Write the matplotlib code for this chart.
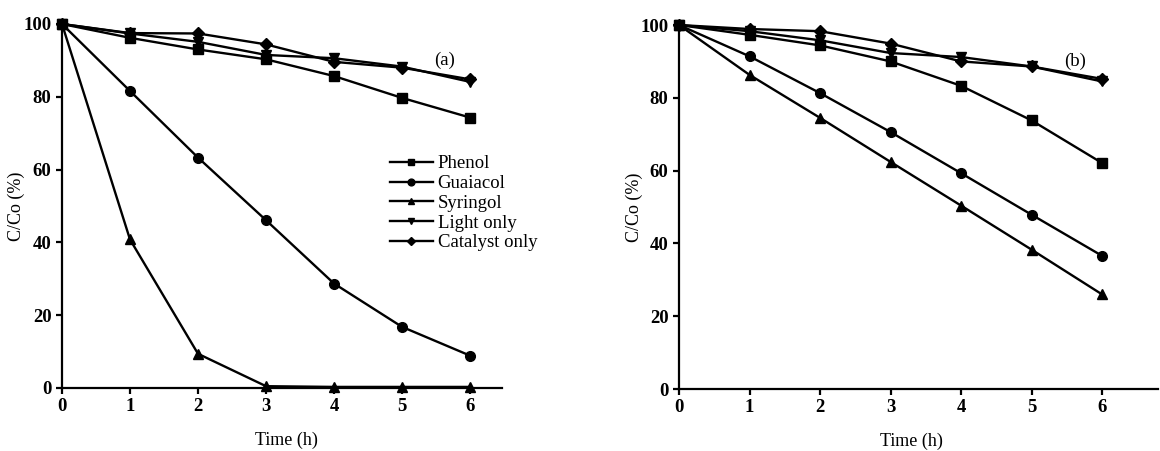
import matplotlib
matplotlib.use("Agg")
from matplotlib import pyplot as plt

plt.rcParams['font.family'] = ['Liberation Serif', 'DejaVu Serif']
plt.rcParams['font.weight'] = 'bold'

time_h = [0, 1, 2, 3, 4, 5, 6]
series_names = ["Phenol", "Guaiacol", "Syringol", "Light only", "Catalyst only"]
markers = ["s", "o", "^", "v", "D"]

# panel (a)
a_phenol = [100, 96.2, 93.0, 90.3, 85.7, 79.7, 74.3]
a_guaiacol = [100, 81.6, 63.3, 46.1, 28.7, 16.8, 8.9]
a_syringol = [100, 40.8, 9.4, 0.5, 0.3, 0.3, 0.3]
a_light = [100, 97.4, 95.1, 91.5, 90.6, 88.3, 84.1]
a_catalyst = [100, 97.5, 97.4, 94.4, 89.6, 88.0, 84.8]

# panel (b)
b_phenol = [100, 97.3, 94.4, 90.0, 83.3, 73.8, 62.1]
b_guaiacol = [100, 91.4, 81.3, 70.6, 59.3, 47.9, 36.6]
b_syringol = [100, 86.3, 74.5, 62.4, 50.4, 38.3, 26.0]
b_light = [100, 98.3, 95.8, 92.3, 91.2, 88.6, 84.5]
b_catalyst = [100, 98.9, 98.3, 94.9, 90.0, 88.6, 85.2]

panels = [
    ("(a)", [a_phenol, a_guaiacol, a_syringol, a_light, a_catalyst]),
    ("(b)", [b_phenol, b_guaiacol, b_syringol, b_light, b_catalyst]),
]

fig = plt.figure(figsize=(11.6, 4.51), dpi=100)
ax_a = fig.add_axes([62 / 1160, 63 / 451, 440 / 1160, 364 / 451])
ax_b = fig.add_axes([679 / 1160, 62 / 451, 479 / 1160, 364 / 451])
axes = [ax_a, ax_b]
xmax = [440 / 68, 479 / 70.5]

for ax, (tag, data), xm in zip(axes, panels, xmax):
    for vals, name, mk in zip(data, series_names, markers):
        ms = 7 if mk != "D" else 6.5
        ax.plot(time_h, vals, color="black", lw=1.7, marker=mk, ms=ms,
                label=name, clip_on=False, zorder=3)
    ax.set_xlim(0, xm)
    ax.set_ylim(0, 100)
    ax.set_xticks(time_h)
    ax.set_yticks([0, 20, 40, 60, 80, 100])
    for s in ["top", "right"]:
        ax.spines[s].set_visible(False)
    for s in ["left", "bottom"]:
        ax.spines[s].set_linewidth(1.6)
    ax.tick_params(direction="out", length=4, width=1.6, labelsize=13.5)
    ax.set_xlabel("Time (h)", fontsize=13)
    ax.set_ylabel("C/Co (%)", fontsize=13)
    ax.xaxis.set_label_coords(3.3 / xm, -0.12)
    ax.yaxis.set_label_coords(-0.085 if ax is ax_a else -0.075, 0.5)
    ax.text(5.62, 90, tag, fontsize=13.5, fontweight="normal",
            ha="center", va="center")

ax_a.legend(loc="upper left", bbox_to_anchor=(0.728, 0.66), frameon=False,
            prop={"size": 13.5, "weight": "normal"}, handlelength=2.3,
            handletextpad=0.25, labelspacing=0.14, borderaxespad=0,
            markerscale=0.7)

plt.savefig("out.png", dpi=100)
